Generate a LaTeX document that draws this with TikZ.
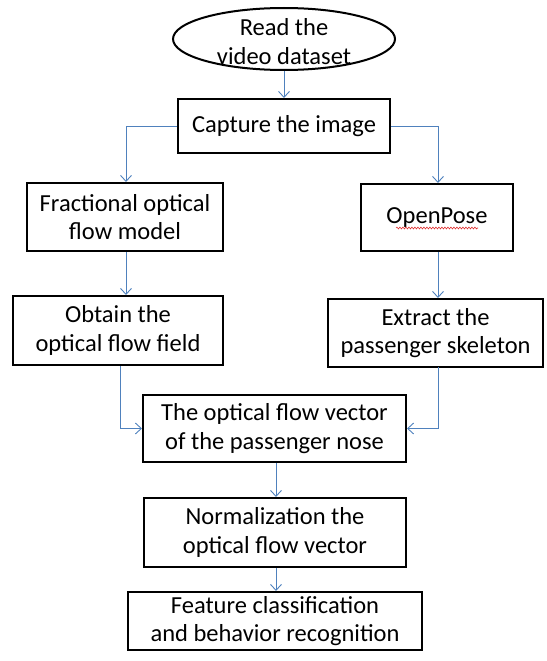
\documentclass[tikz,border=0pt]{standalone}
\usepackage{fontspec}
\setmainfont{Carlito}
\usetikzlibrary{shapes.geometric,arrows.meta,decorations.pathmorphing}
\definecolor{flowblue}{HTML}{4F81BD}
\definecolor{spellred}{HTML}{E03030}
\begin{document}
\begin{tikzpicture}[x=1pt,y=-1pt,
  txt/.style={font=\fontsize{24.5}{28.5}\selectfont, align=center, text=black},
  stepbox/.style={txt, draw=black, line width=2pt, fill=white, inner sep=0pt},
  flow/.style={draw=flowblue, line width=0.9pt, -{Straight Barb[length=6pt,width=11pt]}}]
  \useasboundingbox (0,0) rectangle (546,661);

  % start terminal
  \node (read) [ellipse, draw=black, line width=2pt, minimum width=222pt, minimum height=62pt, inner sep=0pt] at (284,39) {};
  \node (readtxt) [txt] at (284,41.5) {Read the\\video dataset};

  % process boxes
  \node (cap)  [stepbox, minimum width=212pt, minimum height=54pt] at (284,126) {Capture the image};
  \node (frac) [stepbox, minimum width=196pt, minimum height=68pt] at (125,217) {Fractional optical\\flow model};
  \node (open) [stepbox, minimum width=152pt, minimum height=67pt] at (437,217.5) {OpenPose};
  \node (obt)  [stepbox, minimum width=210pt, minimum height=69pt] at (118,330.5) {Obtain the\\optical flow field};
  \node (ext)  [stepbox, minimum width=215pt, minimum height=68pt] at (435.5,333) {Extract the\\passenger skeleton};
  \node (ofv)  [stepbox, minimum width=263pt, minimum height=67pt] at (274.5,428.5) {The optical flow vector\\of the passenger nose};
  \node (nrm)  [stepbox, minimum width=262pt, minimum height=69pt] at (275,532.5) {Normalization the\\optical flow vector};
  \node (feat) [stepbox, minimum width=294pt, minimum height=58pt] at (275,621) {Feature classification\\and behavior recognition};

  % spell-check underline under OpenPose
  \coordinate (wl) at (396,228);
  \coordinate (wr) at (478,228);
  \draw[spellred, line width=0.6pt, decorate, decoration={snake, amplitude=0.9pt, segment length=3pt}] (wl) -- (wr);

  % connectors
  \draw[flow] (read.south) -- (cap.north);
  \coordinate (capl) at (126,126);
  \coordinate (capr) at (438,126);
  \draw[flow] (cap.west) -- (capl) -- (capl |- frac.north);
  \draw[flow] (cap.east) -- (capr) -- (capr |- open.north);
  \draw[flow] (capl |- frac.south) -- (capl |- obt.north);
  \draw[flow] (capr |- open.south) -- (capr |- ext.north);
  \coordinate (obl) at (120,366);
  \coordinate (exr) at (438,367);
  \draw[flow] (obl) |- (ofv.west);
  \draw[flow] (exr) |- (ofv.east);
  \coordinate (midx) at (276,0);
  \draw[flow] (midx |- ofv.south) -- (midx |- nrm.north);
  \draw[flow] (midx |- nrm.south) -- (midx |- feat.north);
\end{tikzpicture}
\end{document}
